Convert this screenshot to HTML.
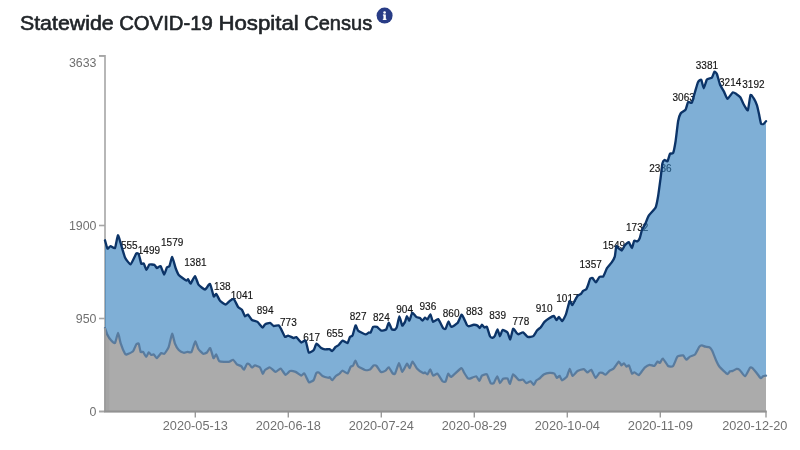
<!DOCTYPE html>
<html><head><meta charset="utf-8"><title>Statewide COVID-19 Hospital Census</title>
<style>
html,body{margin:0;padding:0;background:#fff;}
body{width:800px;height:450px;overflow:hidden;font-family:"Liberation Sans",sans-serif;}
svg{display:block;will-change:transform;opacity:0.999;}
svg text{font-family:"Liberation Sans",sans-serif;}
</style></head><body>
<svg width="800" height="450" viewBox="0 0 800 450">
<rect width="800" height="450" fill="#fff"/>
<g font-size="19.8" fill="#212529" stroke="#212529" stroke-width="0.6" stroke-linejoin="round">
<text x="19.9" y="29.5" textLength="93.8" lengthAdjust="spacingAndGlyphs">Statewide</text>
<text x="119.2" y="29.5" textLength="93.6" lengthAdjust="spacingAndGlyphs">COVID-19</text>
<text x="218.4" y="29.5" textLength="80.4" lengthAdjust="spacingAndGlyphs">Hospital</text>
<text x="304.2" y="29.5" textLength="68" lengthAdjust="spacingAndGlyphs">Census</text>
</g>
<g>
<circle cx="384.6" cy="15.6" r="8" fill="#283c86"/>
<rect x="383.45" y="14.5" width="2.4" height="5.3" fill="#fff"/>
<rect x="382.9" y="14.5" width="1.5" height="1.1" fill="#fff"/>
<rect x="382.8" y="18.8" width="3.7" height="1.1" fill="#fff"/>
<circle cx="384.6" cy="12.5" r="1.3" fill="#fff"/>
</g>
<g stroke="#a6a6a6" stroke-width="1.6" fill="none">
<path d="M99,55.85 H105 V411.5 "/>
<path d="M99,411.5 H766"/>
<line x1="99" y1="411.50" x2="105" y2="411.50"/><line x1="99" y1="318.50" x2="105" y2="318.50"/><line x1="99" y1="225.50" x2="105" y2="225.50"/><line x1="99" y1="55.85" x2="105" y2="55.85"/>
</g>
<g stroke="#8a8a8a" stroke-width="1.2" fill="none">
<line x1="195.25" y1="411.5" x2="195.25" y2="417.5"/><line x1="288.25" y1="411.5" x2="288.25" y2="417.5"/><line x1="381.25" y1="411.5" x2="381.25" y2="417.5"/><line x1="474.25" y1="411.5" x2="474.25" y2="417.5"/><line x1="567.25" y1="411.5" x2="567.25" y2="417.5"/><line x1="660.25" y1="411.5" x2="660.25" y2="417.5"/><line x1="766" y1="411.5" x2="766" y2="417.5"/>
</g>
<g font-size="12.4" fill="#707070">
<text x="96.5" y="415.80" text-anchor="end">0</text><text x="96.5" y="322.80" text-anchor="end">950</text><text x="96.5" y="229.80" text-anchor="end">1900</text><text x="96.5" y="66.65" text-anchor="end">3633</text>
</g>
<g font-size="13" fill="#707070">
<text x="162.75" y="429.9" textLength="65.2" lengthAdjust="spacingAndGlyphs">2020-05-13</text><text x="255.75" y="429.9" textLength="65.2" lengthAdjust="spacingAndGlyphs">2020-06-18</text><text x="348.75" y="429.9" textLength="65.2" lengthAdjust="spacingAndGlyphs">2020-07-24</text><text x="441.75" y="429.9" textLength="65.2" lengthAdjust="spacingAndGlyphs">2020-08-29</text><text x="534.75" y="429.9" textLength="65.2" lengthAdjust="spacingAndGlyphs">2020-10-04</text><text x="627.75" y="429.9" textLength="65.2" lengthAdjust="spacingAndGlyphs">2020-11-09</text><text x="722.2" y="429.9" textLength="65.2" lengthAdjust="spacingAndGlyphs">2020-12-20</text>
</g>
<g font-size="10" fill="#151515" stroke="#151515" stroke-width="0.15">
<text x="137.57" y="248.78" text-anchor="end">555</text><text x="148.92" y="254.28" text-anchor="middle">1499</text><text x="172.17" y="246.42" text-anchor="middle">1579</text><text x="195.42" y="265.87" text-anchor="middle">1381</text><text x="230.57" y="289.73" text-anchor="end">138</text><text x="241.92" y="299.26" text-anchor="middle">1041</text><text x="265.17" y="313.70" text-anchor="middle">894</text><text x="288.42" y="325.58" text-anchor="middle">773</text><text x="311.67" y="340.90" text-anchor="middle">617</text><text x="334.92" y="337.17" text-anchor="middle">655</text><text x="358.17" y="320.28" text-anchor="middle">827</text><text x="381.42" y="320.57" text-anchor="middle">824</text><text x="404.67" y="312.71" text-anchor="middle">904</text><text x="427.92" y="309.57" text-anchor="middle">936</text><text x="451.17" y="317.04" text-anchor="middle">860</text><text x="474.42" y="314.78" text-anchor="middle">883</text><text x="497.67" y="319.10" text-anchor="middle">839</text><text x="520.92" y="325.09" text-anchor="middle">778</text><text x="544.17" y="312.12" text-anchor="middle">910</text><text x="567.42" y="301.62" text-anchor="middle">1017</text><text x="590.67" y="268.22" text-anchor="middle">1357</text><text x="613.92" y="249.37" text-anchor="middle">1549</text><text x="637.17" y="231.39" text-anchor="middle">1732</text><text x="660.42" y="172.07" text-anchor="middle">2336</text><text x="683.67" y="100.67" text-anchor="middle">3063</text><text x="706.92" y="69.44" text-anchor="middle">3381</text><text x="730.17" y="85.84" text-anchor="middle">3214</text><text x="753.42" y="88.00" text-anchor="middle">3192</text>
</g>
<path d="M105.00,240.30 C105.21,240.99 107.03,248.12 107.50,248.60 C107.97,249.08 109.97,246.15 110.60,246.10 C111.22,246.05 114.39,248.90 115.00,248.00 C115.61,247.10 117.43,235.72 117.90,235.30 C118.37,234.88 120.01,241.16 120.60,243.00 C121.19,244.84 124.17,255.62 125.00,257.40 C125.83,259.17 129.66,264.62 130.60,264.30 C131.54,263.98 135.57,254.44 136.25,253.60 C136.93,252.76 138.33,253.42 138.75,254.25 C139.17,255.08 140.83,262.82 141.25,263.60 C141.67,264.38 143.31,263.08 143.75,263.60 C144.19,264.12 146.03,269.82 146.50,269.90 C146.97,269.98 148.74,265.02 149.40,264.60 C150.06,264.18 153.78,264.62 154.40,264.90 C155.03,265.18 156.38,267.90 156.90,268.00 C157.42,268.10 160.00,265.56 160.60,266.10 C161.20,266.64 163.57,274.39 164.10,274.50 C164.62,274.61 166.46,268.10 166.90,267.40 C167.34,266.70 168.95,266.97 169.40,266.10 C169.85,265.23 171.73,256.84 172.25,257.00 C172.77,257.16 175.06,266.51 175.60,268.00 C176.14,269.49 177.86,273.86 178.75,274.90 C179.64,275.94 185.47,280.14 186.25,280.50 C187.03,280.86 187.74,278.99 188.10,279.25 C188.46,279.51 190.03,283.86 190.60,283.60 C191.17,283.34 194.34,276.02 195.00,276.10 C195.66,276.18 197.67,283.48 198.50,284.60 C199.33,285.72 204.04,289.56 205.00,289.50 C205.96,289.44 209.27,283.32 210.00,283.90 C210.73,284.47 213.23,295.57 213.75,296.40 C214.27,297.23 215.73,293.54 216.25,293.90 C216.77,294.26 219.22,299.87 220.00,300.75 C220.78,301.63 224.77,304.50 225.60,304.50 C226.43,304.50 229.32,301.22 230.00,300.75 C230.68,300.28 233.07,298.38 233.75,298.90 C234.43,299.42 237.42,306.10 238.10,307.00 C238.78,307.90 241.33,308.93 241.90,309.70 C242.47,310.47 244.49,315.89 245.00,316.30 C245.51,316.71 247.43,314.29 248.00,314.60 C248.57,314.91 251.11,319.39 251.90,320.00 C252.69,320.61 256.62,321.27 257.50,321.90 C258.38,322.52 261.88,327.29 262.50,327.50 C263.12,327.71 264.38,324.78 265.00,324.40 C265.62,324.02 269.27,322.77 270.00,322.90 C270.73,323.03 273.02,325.79 273.75,326.00 C274.48,326.21 278.12,325.12 278.75,325.40 C279.38,325.68 280.73,328.44 281.25,329.40 C281.77,330.36 284.43,336.38 285.00,336.90 C285.57,337.42 287.37,335.50 288.10,335.60 C288.83,335.70 293.07,337.98 293.75,338.10 C294.43,338.23 295.62,336.73 296.25,337.10 C296.88,337.47 300.47,342.21 301.25,342.50 C302.03,342.79 304.98,339.77 305.60,340.60 C306.23,341.43 308.07,351.72 308.75,352.50 C309.43,353.28 313.10,350.73 313.75,350.00 C314.40,349.27 315.88,343.91 316.50,343.75 C317.12,343.59 320.54,347.63 321.25,348.10 C321.96,348.57 324.32,349.32 325.00,349.40 C325.68,349.48 328.80,348.97 329.40,349.10 C330.00,349.23 331.73,351.18 332.25,351.00 C332.77,350.82 335.06,347.40 335.60,346.90 C336.14,346.40 338.18,345.52 338.75,345.00 C339.32,344.48 341.77,340.76 342.50,340.60 C343.23,340.44 346.88,343.41 347.50,343.10 C348.12,342.79 349.58,337.52 350.00,336.90 C350.42,336.27 352.03,336.56 352.50,335.60 C352.97,334.64 355.13,325.82 355.60,325.40 C356.07,324.98 357.27,329.85 358.10,330.60 C358.93,331.35 364.71,334.24 365.60,334.40 C366.49,334.56 368.33,332.66 368.75,332.50 C369.17,332.34 370.24,332.97 370.60,332.50 C370.96,332.03 372.58,327.37 373.10,326.90 C373.62,326.43 376.22,326.59 376.90,326.90 C377.58,327.21 380.47,330.39 381.25,330.60 C382.03,330.81 385.62,330.05 386.25,329.40 C386.88,328.75 388.28,322.75 388.75,322.75 C389.22,322.75 391.38,328.83 391.90,329.40 C392.42,329.97 394.58,329.81 395.00,329.60 C395.42,329.39 396.53,327.99 396.90,326.90 C397.27,325.81 398.95,316.61 399.40,316.50 C399.85,316.39 401.78,325.15 402.25,325.60 C402.72,326.05 404.61,322.68 405.00,321.90 C405.39,321.12 406.53,316.36 406.90,316.25 C407.27,316.14 408.95,320.89 409.40,320.60 C409.85,320.31 411.68,313.06 412.25,312.75 C412.82,312.44 415.60,316.45 416.25,316.90 C416.90,317.35 419.48,317.79 420.00,318.10 C420.52,318.41 422.08,320.63 422.50,320.60 C422.92,320.57 424.58,317.80 425.00,317.70 C425.42,317.60 427.05,319.67 427.50,319.40 C427.95,319.12 429.93,314.19 430.40,314.40 C430.87,314.61 432.46,321.51 433.10,321.90 C433.74,322.29 437.27,318.58 438.10,319.10 C438.93,319.62 442.48,327.30 443.10,328.10 C443.73,328.90 445.15,329.30 445.60,328.75 C446.05,328.20 448.03,321.65 448.50,321.50 C448.97,321.35 450.50,326.77 451.25,326.90 C452.00,327.03 456.65,324.11 457.50,323.10 C458.35,322.09 460.98,315.17 461.50,314.75 C462.02,314.33 463.30,317.25 463.75,318.10 C464.20,318.95 466.48,324.32 466.90,325.00 C467.32,325.68 468.18,326.27 468.75,326.25 C469.32,326.23 473.02,324.80 473.75,324.75 C474.48,324.70 477.00,325.32 477.50,325.60 C478.00,325.88 479.38,328.17 479.75,328.10 C480.12,328.03 481.51,324.80 481.90,324.75 C482.29,324.70 483.98,327.32 484.40,327.50 C484.82,327.68 486.43,326.17 486.90,326.90 C487.37,327.63 489.53,335.35 490.00,336.25 C490.47,337.15 492.08,337.80 492.50,337.75 C492.92,337.70 494.58,336.30 495.00,335.60 C495.42,334.90 497.08,329.35 497.50,329.40 C497.92,329.45 499.58,336.20 500.00,336.25 C500.42,336.30 501.88,330.31 502.50,330.00 C503.12,329.69 506.85,331.72 507.50,332.50 C508.15,333.28 509.78,339.71 510.25,339.40 C510.72,339.09 512.60,329.32 513.10,328.75 C513.60,328.18 515.81,332.04 516.25,332.50 C516.69,332.96 517.83,334.26 518.40,334.25 C518.97,334.24 522.33,332.18 523.10,332.40 C523.88,332.62 526.85,336.59 527.70,336.90 C528.55,337.21 532.52,336.63 533.30,336.10 C534.07,335.57 536.38,331.24 537.00,330.50 C537.62,329.76 540.17,327.92 540.80,327.20 C541.42,326.48 543.80,322.65 544.50,321.90 C545.20,321.15 548.43,318.69 549.20,318.20 C549.98,317.71 553.18,315.84 553.80,316.00 C554.42,316.16 556.18,320.03 556.60,320.10 C557.02,320.18 558.43,316.81 558.90,316.90 C559.37,316.99 561.61,321.43 562.20,321.20 C562.79,320.97 565.38,315.78 566.00,314.10 C566.62,312.42 569.18,301.74 569.70,301.00 C570.22,300.26 571.81,305.17 572.20,305.20 C572.59,305.23 573.96,302.17 574.40,301.40 C574.84,300.62 576.93,296.55 577.50,295.90 C578.07,295.25 580.78,294.02 581.25,293.60 C581.72,293.18 582.68,291.27 583.10,290.90 C583.52,290.53 585.83,289.69 586.25,289.20 C586.67,288.71 587.77,285.88 588.10,285.00 C588.43,284.12 589.83,279.27 590.20,278.70 C590.57,278.12 592.03,277.79 592.50,278.10 C592.97,278.41 595.22,282.51 595.80,282.40 C596.38,282.29 598.88,277.30 599.50,276.80 C600.12,276.30 602.67,277.12 603.30,276.40 C603.92,275.68 606.30,269.37 607.00,268.20 C607.70,267.03 611.05,263.37 611.70,262.40 C612.35,261.43 614.42,257.96 614.80,256.60 C615.18,255.24 615.97,246.78 616.30,246.10 C616.62,245.42 618.24,248.03 618.70,248.40 C619.16,248.77 621.28,250.76 621.80,250.50 C622.32,250.24 624.32,245.99 624.90,245.30 C625.48,244.61 628.22,241.97 628.80,242.20 C629.38,242.42 631.45,248.12 631.90,248.00 C632.35,247.88 633.75,241.25 634.20,240.70 C634.65,240.15 636.84,241.60 637.30,241.40 C637.76,241.20 639.31,239.27 639.70,238.30 C640.09,237.33 641.55,230.97 642.00,229.80 C642.45,228.63 644.54,225.48 645.10,224.30 C645.66,223.12 647.88,217.00 648.75,215.60 C649.62,214.20 654.82,209.11 655.60,207.50 C656.38,205.89 657.68,198.71 658.10,196.25 C658.52,193.79 660.24,180.73 660.60,178.00 C660.96,175.27 662.08,165.00 662.40,163.50 C662.72,162.00 663.98,160.19 664.40,160.00 C664.82,159.81 667.03,161.77 667.50,161.25 C667.97,160.73 669.53,154.43 670.00,153.75 C670.47,153.07 672.63,154.14 673.10,153.10 C673.57,152.06 675.18,143.90 675.60,141.25 C676.02,138.60 677.68,123.56 678.10,121.25 C678.52,118.94 679.98,114.46 680.60,113.50 C681.23,112.54 684.98,110.66 685.60,109.70 C686.23,108.74 687.58,102.59 688.10,102.00 C688.62,101.41 691.32,103.43 691.90,102.60 C692.48,101.77 694.48,93.72 695.00,92.00 C695.52,90.28 697.58,83.02 698.10,82.00 C698.62,80.98 700.78,79.23 701.25,79.75 C701.72,80.27 703.28,88.27 703.75,88.25 C704.22,88.23 706.22,80.39 706.90,79.50 C707.58,78.61 711.27,78.25 711.90,77.60 C712.52,76.95 713.98,72.06 714.40,71.75 C714.82,71.44 716.43,72.84 716.90,73.90 C717.37,74.96 719.41,83.03 720.00,84.50 C720.59,85.97 723.38,90.40 724.00,91.60 C724.62,92.80 726.77,98.83 727.50,98.90 C728.23,98.97 731.97,92.82 732.70,92.40 C733.43,91.98 735.62,93.49 736.25,93.90 C736.88,94.31 739.70,96.46 740.30,97.30 C740.90,98.14 742.88,102.92 743.50,104.00 C744.12,105.08 747.22,111.05 747.80,110.30 C748.38,109.55 749.99,95.97 750.50,95.00 C751.01,94.03 753.36,97.74 753.90,98.60 C754.44,99.46 756.58,104.02 757.00,105.30 C757.42,106.58 758.67,112.48 759.00,114.00 C759.33,115.52 760.62,122.67 761.00,123.50 C761.38,124.33 763.08,124.19 763.50,124.00 C763.92,123.81 765.79,121.43 766.00,121.20 L766.00,411.5 L105.00,411.5 Z" fill="#2a7abb" fill-opacity="0.6"/>
<path d="M105.00,240.30 C105.21,240.99 107.03,248.12 107.50,248.60 C107.97,249.08 109.97,246.15 110.60,246.10 C111.22,246.05 114.39,248.90 115.00,248.00 C115.61,247.10 117.43,235.72 117.90,235.30 C118.37,234.88 120.01,241.16 120.60,243.00 C121.19,244.84 124.17,255.62 125.00,257.40 C125.83,259.17 129.66,264.62 130.60,264.30 C131.54,263.98 135.57,254.44 136.25,253.60 C136.93,252.76 138.33,253.42 138.75,254.25 C139.17,255.08 140.83,262.82 141.25,263.60 C141.67,264.38 143.31,263.08 143.75,263.60 C144.19,264.12 146.03,269.82 146.50,269.90 C146.97,269.98 148.74,265.02 149.40,264.60 C150.06,264.18 153.78,264.62 154.40,264.90 C155.03,265.18 156.38,267.90 156.90,268.00 C157.42,268.10 160.00,265.56 160.60,266.10 C161.20,266.64 163.57,274.39 164.10,274.50 C164.62,274.61 166.46,268.10 166.90,267.40 C167.34,266.70 168.95,266.97 169.40,266.10 C169.85,265.23 171.73,256.84 172.25,257.00 C172.77,257.16 175.06,266.51 175.60,268.00 C176.14,269.49 177.86,273.86 178.75,274.90 C179.64,275.94 185.47,280.14 186.25,280.50 C187.03,280.86 187.74,278.99 188.10,279.25 C188.46,279.51 190.03,283.86 190.60,283.60 C191.17,283.34 194.34,276.02 195.00,276.10 C195.66,276.18 197.67,283.48 198.50,284.60 C199.33,285.72 204.04,289.56 205.00,289.50 C205.96,289.44 209.27,283.32 210.00,283.90 C210.73,284.47 213.23,295.57 213.75,296.40 C214.27,297.23 215.73,293.54 216.25,293.90 C216.77,294.26 219.22,299.87 220.00,300.75 C220.78,301.63 224.77,304.50 225.60,304.50 C226.43,304.50 229.32,301.22 230.00,300.75 C230.68,300.28 233.07,298.38 233.75,298.90 C234.43,299.42 237.42,306.10 238.10,307.00 C238.78,307.90 241.33,308.93 241.90,309.70 C242.47,310.47 244.49,315.89 245.00,316.30 C245.51,316.71 247.43,314.29 248.00,314.60 C248.57,314.91 251.11,319.39 251.90,320.00 C252.69,320.61 256.62,321.27 257.50,321.90 C258.38,322.52 261.88,327.29 262.50,327.50 C263.12,327.71 264.38,324.78 265.00,324.40 C265.62,324.02 269.27,322.77 270.00,322.90 C270.73,323.03 273.02,325.79 273.75,326.00 C274.48,326.21 278.12,325.12 278.75,325.40 C279.38,325.68 280.73,328.44 281.25,329.40 C281.77,330.36 284.43,336.38 285.00,336.90 C285.57,337.42 287.37,335.50 288.10,335.60 C288.83,335.70 293.07,337.98 293.75,338.10 C294.43,338.23 295.62,336.73 296.25,337.10 C296.88,337.47 300.47,342.21 301.25,342.50 C302.03,342.79 304.98,339.77 305.60,340.60 C306.23,341.43 308.07,351.72 308.75,352.50 C309.43,353.28 313.10,350.73 313.75,350.00 C314.40,349.27 315.88,343.91 316.50,343.75 C317.12,343.59 320.54,347.63 321.25,348.10 C321.96,348.57 324.32,349.32 325.00,349.40 C325.68,349.48 328.80,348.97 329.40,349.10 C330.00,349.23 331.73,351.18 332.25,351.00 C332.77,350.82 335.06,347.40 335.60,346.90 C336.14,346.40 338.18,345.52 338.75,345.00 C339.32,344.48 341.77,340.76 342.50,340.60 C343.23,340.44 346.88,343.41 347.50,343.10 C348.12,342.79 349.58,337.52 350.00,336.90 C350.42,336.27 352.03,336.56 352.50,335.60 C352.97,334.64 355.13,325.82 355.60,325.40 C356.07,324.98 357.27,329.85 358.10,330.60 C358.93,331.35 364.71,334.24 365.60,334.40 C366.49,334.56 368.33,332.66 368.75,332.50 C369.17,332.34 370.24,332.97 370.60,332.50 C370.96,332.03 372.58,327.37 373.10,326.90 C373.62,326.43 376.22,326.59 376.90,326.90 C377.58,327.21 380.47,330.39 381.25,330.60 C382.03,330.81 385.62,330.05 386.25,329.40 C386.88,328.75 388.28,322.75 388.75,322.75 C389.22,322.75 391.38,328.83 391.90,329.40 C392.42,329.97 394.58,329.81 395.00,329.60 C395.42,329.39 396.53,327.99 396.90,326.90 C397.27,325.81 398.95,316.61 399.40,316.50 C399.85,316.39 401.78,325.15 402.25,325.60 C402.72,326.05 404.61,322.68 405.00,321.90 C405.39,321.12 406.53,316.36 406.90,316.25 C407.27,316.14 408.95,320.89 409.40,320.60 C409.85,320.31 411.68,313.06 412.25,312.75 C412.82,312.44 415.60,316.45 416.25,316.90 C416.90,317.35 419.48,317.79 420.00,318.10 C420.52,318.41 422.08,320.63 422.50,320.60 C422.92,320.57 424.58,317.80 425.00,317.70 C425.42,317.60 427.05,319.67 427.50,319.40 C427.95,319.12 429.93,314.19 430.40,314.40 C430.87,314.61 432.46,321.51 433.10,321.90 C433.74,322.29 437.27,318.58 438.10,319.10 C438.93,319.62 442.48,327.30 443.10,328.10 C443.73,328.90 445.15,329.30 445.60,328.75 C446.05,328.20 448.03,321.65 448.50,321.50 C448.97,321.35 450.50,326.77 451.25,326.90 C452.00,327.03 456.65,324.11 457.50,323.10 C458.35,322.09 460.98,315.17 461.50,314.75 C462.02,314.33 463.30,317.25 463.75,318.10 C464.20,318.95 466.48,324.32 466.90,325.00 C467.32,325.68 468.18,326.27 468.75,326.25 C469.32,326.23 473.02,324.80 473.75,324.75 C474.48,324.70 477.00,325.32 477.50,325.60 C478.00,325.88 479.38,328.17 479.75,328.10 C480.12,328.03 481.51,324.80 481.90,324.75 C482.29,324.70 483.98,327.32 484.40,327.50 C484.82,327.68 486.43,326.17 486.90,326.90 C487.37,327.63 489.53,335.35 490.00,336.25 C490.47,337.15 492.08,337.80 492.50,337.75 C492.92,337.70 494.58,336.30 495.00,335.60 C495.42,334.90 497.08,329.35 497.50,329.40 C497.92,329.45 499.58,336.20 500.00,336.25 C500.42,336.30 501.88,330.31 502.50,330.00 C503.12,329.69 506.85,331.72 507.50,332.50 C508.15,333.28 509.78,339.71 510.25,339.40 C510.72,339.09 512.60,329.32 513.10,328.75 C513.60,328.18 515.81,332.04 516.25,332.50 C516.69,332.96 517.83,334.26 518.40,334.25 C518.97,334.24 522.33,332.18 523.10,332.40 C523.88,332.62 526.85,336.59 527.70,336.90 C528.55,337.21 532.52,336.63 533.30,336.10 C534.07,335.57 536.38,331.24 537.00,330.50 C537.62,329.76 540.17,327.92 540.80,327.20 C541.42,326.48 543.80,322.65 544.50,321.90 C545.20,321.15 548.43,318.69 549.20,318.20 C549.98,317.71 553.18,315.84 553.80,316.00 C554.42,316.16 556.18,320.03 556.60,320.10 C557.02,320.18 558.43,316.81 558.90,316.90 C559.37,316.99 561.61,321.43 562.20,321.20 C562.79,320.97 565.38,315.78 566.00,314.10 C566.62,312.42 569.18,301.74 569.70,301.00 C570.22,300.26 571.81,305.17 572.20,305.20 C572.59,305.23 573.96,302.17 574.40,301.40 C574.84,300.62 576.93,296.55 577.50,295.90 C578.07,295.25 580.78,294.02 581.25,293.60 C581.72,293.18 582.68,291.27 583.10,290.90 C583.52,290.53 585.83,289.69 586.25,289.20 C586.67,288.71 587.77,285.88 588.10,285.00 C588.43,284.12 589.83,279.27 590.20,278.70 C590.57,278.12 592.03,277.79 592.50,278.10 C592.97,278.41 595.22,282.51 595.80,282.40 C596.38,282.29 598.88,277.30 599.50,276.80 C600.12,276.30 602.67,277.12 603.30,276.40 C603.92,275.68 606.30,269.37 607.00,268.20 C607.70,267.03 611.05,263.37 611.70,262.40 C612.35,261.43 614.42,257.96 614.80,256.60 C615.18,255.24 615.97,246.78 616.30,246.10 C616.62,245.42 618.24,248.03 618.70,248.40 C619.16,248.77 621.28,250.76 621.80,250.50 C622.32,250.24 624.32,245.99 624.90,245.30 C625.48,244.61 628.22,241.97 628.80,242.20 C629.38,242.42 631.45,248.12 631.90,248.00 C632.35,247.88 633.75,241.25 634.20,240.70 C634.65,240.15 636.84,241.60 637.30,241.40 C637.76,241.20 639.31,239.27 639.70,238.30 C640.09,237.33 641.55,230.97 642.00,229.80 C642.45,228.63 644.54,225.48 645.10,224.30 C645.66,223.12 647.88,217.00 648.75,215.60 C649.62,214.20 654.82,209.11 655.60,207.50 C656.38,205.89 657.68,198.71 658.10,196.25 C658.52,193.79 660.24,180.73 660.60,178.00 C660.96,175.27 662.08,165.00 662.40,163.50 C662.72,162.00 663.98,160.19 664.40,160.00 C664.82,159.81 667.03,161.77 667.50,161.25 C667.97,160.73 669.53,154.43 670.00,153.75 C670.47,153.07 672.63,154.14 673.10,153.10 C673.57,152.06 675.18,143.90 675.60,141.25 C676.02,138.60 677.68,123.56 678.10,121.25 C678.52,118.94 679.98,114.46 680.60,113.50 C681.23,112.54 684.98,110.66 685.60,109.70 C686.23,108.74 687.58,102.59 688.10,102.00 C688.62,101.41 691.32,103.43 691.90,102.60 C692.48,101.77 694.48,93.72 695.00,92.00 C695.52,90.28 697.58,83.02 698.10,82.00 C698.62,80.98 700.78,79.23 701.25,79.75 C701.72,80.27 703.28,88.27 703.75,88.25 C704.22,88.23 706.22,80.39 706.90,79.50 C707.58,78.61 711.27,78.25 711.90,77.60 C712.52,76.95 713.98,72.06 714.40,71.75 C714.82,71.44 716.43,72.84 716.90,73.90 C717.37,74.96 719.41,83.03 720.00,84.50 C720.59,85.97 723.38,90.40 724.00,91.60 C724.62,92.80 726.77,98.83 727.50,98.90 C728.23,98.97 731.97,92.82 732.70,92.40 C733.43,91.98 735.62,93.49 736.25,93.90 C736.88,94.31 739.70,96.46 740.30,97.30 C740.90,98.14 742.88,102.92 743.50,104.00 C744.12,105.08 747.22,111.05 747.80,110.30 C748.38,109.55 749.99,95.97 750.50,95.00 C751.01,94.03 753.36,97.74 753.90,98.60 C754.44,99.46 756.58,104.02 757.00,105.30 C757.42,106.58 758.67,112.48 759.00,114.00 C759.33,115.52 760.62,122.67 761.00,123.50 C761.38,124.33 763.08,124.19 763.50,124.00 C763.92,123.81 765.79,121.43 766.00,121.20" fill="none" stroke="#0c3468" stroke-width="2.35" stroke-linejoin="round" stroke-linecap="round"/>
<path d="M105.00,328.10 C105.21,328.68 106.98,333.96 107.50,335.00 C108.02,336.04 110.62,339.93 111.25,340.60 C111.88,341.28 114.43,343.74 115.00,343.10 C115.57,342.46 117.63,332.90 118.10,332.90 C118.57,332.90 120.02,341.36 120.60,343.10 C121.17,344.84 124.47,352.81 125.00,353.75 C125.53,354.69 126.23,354.61 126.90,354.40 C127.58,354.19 132.32,352.08 133.10,351.25 C133.88,350.42 135.78,345.02 136.25,344.40 C136.72,343.77 138.39,343.12 138.75,343.75 C139.11,344.38 140.24,351.22 140.60,351.90 C140.96,352.58 142.63,351.48 143.10,351.90 C143.57,352.32 145.78,356.87 146.25,356.90 C146.72,356.93 148.33,352.41 148.75,352.25 C149.17,352.09 150.83,354.82 151.25,355.00 C151.67,355.18 153.28,354.14 153.75,354.40 C154.22,354.66 156.28,358.21 156.90,358.10 C157.53,357.99 160.62,353.46 161.25,353.10 C161.88,352.74 163.78,354.27 164.40,353.75 C165.03,353.23 168.11,348.57 168.75,346.90 C169.39,345.23 171.58,334.01 172.10,333.75 C172.62,333.49 174.45,342.40 175.00,343.75 C175.55,345.10 178.02,349.25 178.75,350.00 C179.48,350.75 183.02,352.59 183.75,352.75 C184.48,352.91 186.85,351.96 187.50,351.90 C188.15,351.84 190.85,352.87 191.50,352.00 C192.15,351.13 194.68,341.75 195.25,341.50 C195.82,341.25 197.75,347.98 198.40,349.00 C199.05,350.02 202.39,353.46 203.10,353.75 C203.81,354.04 206.30,352.97 206.90,352.50 C207.50,352.03 209.70,347.63 210.25,348.10 C210.80,348.57 213.00,357.58 213.50,358.10 C214.00,358.62 215.76,354.14 216.25,354.40 C216.74,354.66 218.36,360.62 219.40,361.25 C220.44,361.88 227.61,362.02 228.75,361.90 C229.89,361.77 232.42,359.54 233.10,359.75 C233.78,359.96 236.22,363.86 236.90,364.40 C237.58,364.94 240.66,365.80 241.25,366.25 C241.84,366.70 243.53,369.94 244.00,369.75 C244.47,369.56 246.45,364.45 246.90,364.00 C247.35,363.55 248.98,364.11 249.40,364.40 C249.82,364.69 251.43,367.42 251.90,367.50 C252.37,367.58 254.32,365.40 255.00,365.40 C255.68,365.40 259.35,366.80 260.00,367.50 C260.65,368.20 262.33,373.54 262.75,373.75 C263.17,373.96 264.40,370.52 265.00,370.00 C265.60,369.48 269.12,367.34 270.00,367.50 C270.88,367.66 274.72,371.82 275.60,371.90 C276.48,371.98 279.77,368.25 280.60,368.50 C281.43,368.75 284.82,374.69 285.60,374.90 C286.38,375.11 289.17,371.25 290.00,371.00 C290.83,370.75 294.66,371.52 295.60,371.90 C296.54,372.28 300.52,375.47 301.25,375.60 C301.98,375.73 303.75,372.95 304.40,373.50 C305.05,374.05 308.22,381.71 309.00,382.25 C309.78,382.79 313.15,380.76 313.75,380.00 C314.35,379.24 315.83,373.73 316.25,373.10 C316.67,372.48 318.23,372.26 318.75,372.50 C319.27,372.74 321.72,375.56 322.50,376.00 C323.28,376.44 327.50,377.65 328.10,377.75 C328.70,377.85 329.40,377.04 329.75,377.25 C330.10,377.46 331.76,380.33 332.25,380.25 C332.74,380.17 335.00,376.79 335.60,376.25 C336.20,375.71 338.82,374.22 339.40,373.75 C339.97,373.28 341.82,370.62 342.50,370.60 C343.18,370.58 346.82,373.81 347.50,373.50 C348.18,373.19 350.13,367.56 350.60,366.90 C351.07,366.24 352.70,366.12 353.10,365.60 C353.50,365.08 354.98,360.55 355.40,360.60 C355.82,360.65 357.30,365.47 358.10,366.25 C358.90,367.03 364.01,369.72 365.00,370.00 C365.99,370.28 369.29,369.98 370.00,369.60 C370.71,369.23 372.96,365.82 373.50,365.50 C374.04,365.18 375.88,365.26 376.50,365.80 C377.12,366.34 380.24,371.60 381.00,372.00 C381.76,372.40 384.95,371.00 385.60,370.60 C386.25,370.20 388.18,367.04 388.75,367.25 C389.32,367.46 391.98,372.56 392.50,373.10 C393.02,373.64 394.46,374.58 395.00,373.75 C395.54,372.92 398.40,363.25 399.00,363.10 C399.60,362.95 401.59,371.85 402.25,371.90 C402.91,371.95 406.27,364.07 406.90,363.75 C407.52,363.43 409.28,368.29 409.75,368.10 C410.22,367.91 411.90,361.47 412.50,361.50 C413.10,361.53 416.02,367.53 416.90,368.50 C417.78,369.47 422.43,372.77 423.10,373.10 C423.78,373.43 424.63,372.39 425.00,372.50 C425.37,372.61 427.06,374.66 427.50,374.40 C427.94,374.14 429.78,369.30 430.25,369.40 C430.72,369.50 432.50,375.24 433.10,375.60 C433.70,375.96 436.72,373.28 437.50,373.75 C438.28,374.22 441.82,380.60 442.50,381.25 C443.18,381.90 445.13,382.23 445.60,381.60 C446.07,380.98 447.63,374.14 448.10,373.75 C448.57,373.36 450.15,377.37 451.25,376.90 C452.35,376.43 460.19,368.47 461.25,368.10 C462.31,367.73 463.45,371.65 464.00,372.50 C464.55,373.35 467.30,377.79 467.80,378.30 C468.30,378.81 469.30,378.77 470.00,378.60 C470.70,378.43 475.47,376.05 476.25,376.25 C477.03,376.45 478.93,381.05 479.40,381.00 C479.87,380.95 481.27,376.15 481.90,375.60 C482.52,375.05 486.17,373.77 486.90,374.40 C487.62,375.02 490.03,382.38 490.60,383.10 C491.17,383.83 493.20,383.67 493.75,383.10 C494.30,382.53 496.73,376.25 497.25,376.25 C497.77,376.25 499.51,382.89 500.00,383.10 C500.49,383.31 502.48,379.13 503.10,378.75 C503.73,378.37 506.93,378.08 507.50,378.50 C508.07,378.92 509.53,384.09 510.00,383.75 C510.47,383.41 512.37,374.71 513.10,374.40 C513.83,374.09 517.92,379.55 518.75,380.00 C519.58,380.45 522.48,379.49 523.10,379.75 C523.73,380.01 525.62,382.98 526.25,383.10 C526.88,383.23 529.98,381.09 530.60,381.25 C531.23,381.41 533.28,385.05 533.75,385.00 C534.22,384.95 535.73,381.18 536.25,380.60 C536.77,380.03 539.38,378.62 540.00,378.10 C540.62,377.58 542.95,374.84 543.75,374.40 C544.55,373.96 548.71,372.86 549.60,372.80 C550.49,372.74 553.79,373.27 554.40,373.70 C555.01,374.13 556.47,377.82 556.90,378.00 C557.33,378.18 559.18,375.60 559.60,375.80 C560.02,376.00 561.29,380.33 561.90,380.40 C562.51,380.47 566.25,377.57 566.90,376.60 C567.55,375.63 569.28,368.80 569.75,368.75 C570.22,368.70 571.85,375.81 572.50,376.00 C573.15,376.19 576.56,371.57 577.50,371.00 C578.44,370.43 582.92,368.98 583.75,369.10 C584.58,369.23 586.88,372.45 587.50,372.50 C588.12,372.55 590.58,369.30 591.25,369.75 C591.92,370.20 594.92,377.64 595.60,377.90 C596.28,378.16 598.82,373.32 599.40,372.90 C599.98,372.48 601.98,372.75 602.50,372.90 C603.02,373.05 604.98,374.96 605.60,374.75 C606.23,374.54 609.32,370.92 610.00,370.40 C610.68,369.88 613.02,369.23 613.75,368.50 C614.48,367.77 618.10,361.86 618.75,361.60 C619.40,361.34 621.06,365.26 621.50,365.40 C621.94,365.54 623.58,363.15 624.00,363.25 C624.42,363.35 626.08,366.42 626.50,366.60 C626.92,366.78 628.55,364.82 629.00,365.40 C629.45,365.97 631.45,372.93 631.90,373.50 C632.35,374.07 633.83,372.12 634.40,372.25 C634.97,372.38 638.18,375.10 638.75,375.10 C639.32,375.10 640.75,372.88 641.25,372.25 C641.75,371.62 644.00,368.22 644.70,367.60 C645.40,366.98 648.79,364.93 649.60,364.80 C650.41,364.67 653.74,366.27 654.40,366.00 C655.06,365.73 657.03,361.86 657.50,361.60 C657.97,361.34 659.56,363.16 660.00,362.90 C660.44,362.64 662.08,358.24 662.75,358.50 C663.42,358.76 667.24,365.38 668.10,366.00 C668.96,366.62 672.32,366.78 673.10,366.00 C673.88,365.22 676.67,357.48 677.50,356.60 C678.33,355.72 682.37,355.14 683.10,355.40 C683.83,355.66 685.67,359.65 686.25,359.75 C686.83,359.85 689.27,357.04 690.00,356.60 C690.73,356.16 694.22,355.33 695.00,354.50 C695.78,353.67 698.82,347.36 699.40,346.60 C699.98,345.84 701.41,345.39 701.90,345.40 C702.39,345.41 704.67,346.55 705.30,346.70 C705.92,346.85 708.82,346.91 709.40,347.25 C709.98,347.59 711.65,349.72 712.20,350.80 C712.75,351.88 715.38,358.85 716.00,360.20 C716.62,361.55 718.75,365.85 719.70,367.00 C720.65,368.15 726.54,373.65 727.40,374.00 C728.26,374.35 729.55,371.51 730.00,371.25 C730.45,370.99 732.25,371.10 732.80,370.90 C733.35,370.70 736.02,368.97 736.60,368.90 C737.18,368.82 739.00,369.39 739.70,370.00 C740.40,370.61 744.14,376.44 745.00,376.25 C745.86,376.06 749.38,368.43 750.00,367.75 C750.62,367.07 751.98,367.70 752.50,368.10 C753.02,368.50 755.58,371.67 756.25,372.50 C756.92,373.33 760.03,377.79 760.60,378.10 C761.17,378.41 762.65,376.46 763.10,376.25 C763.55,376.04 765.76,375.65 766.00,375.60 L766.00,411.5 L105.00,411.5 Z" fill="#ababab"/>
<path d="M105.00,328.10 C105.21,328.68 106.98,333.96 107.50,335.00 C108.02,336.04 110.62,339.93 111.25,340.60 C111.88,341.28 114.43,343.74 115.00,343.10 C115.57,342.46 117.63,332.90 118.10,332.90 C118.57,332.90 120.02,341.36 120.60,343.10 C121.17,344.84 124.47,352.81 125.00,353.75 C125.53,354.69 126.23,354.61 126.90,354.40 C127.58,354.19 132.32,352.08 133.10,351.25 C133.88,350.42 135.78,345.02 136.25,344.40 C136.72,343.77 138.39,343.12 138.75,343.75 C139.11,344.38 140.24,351.22 140.60,351.90 C140.96,352.58 142.63,351.48 143.10,351.90 C143.57,352.32 145.78,356.87 146.25,356.90 C146.72,356.93 148.33,352.41 148.75,352.25 C149.17,352.09 150.83,354.82 151.25,355.00 C151.67,355.18 153.28,354.14 153.75,354.40 C154.22,354.66 156.28,358.21 156.90,358.10 C157.53,357.99 160.62,353.46 161.25,353.10 C161.88,352.74 163.78,354.27 164.40,353.75 C165.03,353.23 168.11,348.57 168.75,346.90 C169.39,345.23 171.58,334.01 172.10,333.75 C172.62,333.49 174.45,342.40 175.00,343.75 C175.55,345.10 178.02,349.25 178.75,350.00 C179.48,350.75 183.02,352.59 183.75,352.75 C184.48,352.91 186.85,351.96 187.50,351.90 C188.15,351.84 190.85,352.87 191.50,352.00 C192.15,351.13 194.68,341.75 195.25,341.50 C195.82,341.25 197.75,347.98 198.40,349.00 C199.05,350.02 202.39,353.46 203.10,353.75 C203.81,354.04 206.30,352.97 206.90,352.50 C207.50,352.03 209.70,347.63 210.25,348.10 C210.80,348.57 213.00,357.58 213.50,358.10 C214.00,358.62 215.76,354.14 216.25,354.40 C216.74,354.66 218.36,360.62 219.40,361.25 C220.44,361.88 227.61,362.02 228.75,361.90 C229.89,361.77 232.42,359.54 233.10,359.75 C233.78,359.96 236.22,363.86 236.90,364.40 C237.58,364.94 240.66,365.80 241.25,366.25 C241.84,366.70 243.53,369.94 244.00,369.75 C244.47,369.56 246.45,364.45 246.90,364.00 C247.35,363.55 248.98,364.11 249.40,364.40 C249.82,364.69 251.43,367.42 251.90,367.50 C252.37,367.58 254.32,365.40 255.00,365.40 C255.68,365.40 259.35,366.80 260.00,367.50 C260.65,368.20 262.33,373.54 262.75,373.75 C263.17,373.96 264.40,370.52 265.00,370.00 C265.60,369.48 269.12,367.34 270.00,367.50 C270.88,367.66 274.72,371.82 275.60,371.90 C276.48,371.98 279.77,368.25 280.60,368.50 C281.43,368.75 284.82,374.69 285.60,374.90 C286.38,375.11 289.17,371.25 290.00,371.00 C290.83,370.75 294.66,371.52 295.60,371.90 C296.54,372.28 300.52,375.47 301.25,375.60 C301.98,375.73 303.75,372.95 304.40,373.50 C305.05,374.05 308.22,381.71 309.00,382.25 C309.78,382.79 313.15,380.76 313.75,380.00 C314.35,379.24 315.83,373.73 316.25,373.10 C316.67,372.48 318.23,372.26 318.75,372.50 C319.27,372.74 321.72,375.56 322.50,376.00 C323.28,376.44 327.50,377.65 328.10,377.75 C328.70,377.85 329.40,377.04 329.75,377.25 C330.10,377.46 331.76,380.33 332.25,380.25 C332.74,380.17 335.00,376.79 335.60,376.25 C336.20,375.71 338.82,374.22 339.40,373.75 C339.97,373.28 341.82,370.62 342.50,370.60 C343.18,370.58 346.82,373.81 347.50,373.50 C348.18,373.19 350.13,367.56 350.60,366.90 C351.07,366.24 352.70,366.12 353.10,365.60 C353.50,365.08 354.98,360.55 355.40,360.60 C355.82,360.65 357.30,365.47 358.10,366.25 C358.90,367.03 364.01,369.72 365.00,370.00 C365.99,370.28 369.29,369.98 370.00,369.60 C370.71,369.23 372.96,365.82 373.50,365.50 C374.04,365.18 375.88,365.26 376.50,365.80 C377.12,366.34 380.24,371.60 381.00,372.00 C381.76,372.40 384.95,371.00 385.60,370.60 C386.25,370.20 388.18,367.04 388.75,367.25 C389.32,367.46 391.98,372.56 392.50,373.10 C393.02,373.64 394.46,374.58 395.00,373.75 C395.54,372.92 398.40,363.25 399.00,363.10 C399.60,362.95 401.59,371.85 402.25,371.90 C402.91,371.95 406.27,364.07 406.90,363.75 C407.52,363.43 409.28,368.29 409.75,368.10 C410.22,367.91 411.90,361.47 412.50,361.50 C413.10,361.53 416.02,367.53 416.90,368.50 C417.78,369.47 422.43,372.77 423.10,373.10 C423.78,373.43 424.63,372.39 425.00,372.50 C425.37,372.61 427.06,374.66 427.50,374.40 C427.94,374.14 429.78,369.30 430.25,369.40 C430.72,369.50 432.50,375.24 433.10,375.60 C433.70,375.96 436.72,373.28 437.50,373.75 C438.28,374.22 441.82,380.60 442.50,381.25 C443.18,381.90 445.13,382.23 445.60,381.60 C446.07,380.98 447.63,374.14 448.10,373.75 C448.57,373.36 450.15,377.37 451.25,376.90 C452.35,376.43 460.19,368.47 461.25,368.10 C462.31,367.73 463.45,371.65 464.00,372.50 C464.55,373.35 467.30,377.79 467.80,378.30 C468.30,378.81 469.30,378.77 470.00,378.60 C470.70,378.43 475.47,376.05 476.25,376.25 C477.03,376.45 478.93,381.05 479.40,381.00 C479.87,380.95 481.27,376.15 481.90,375.60 C482.52,375.05 486.17,373.77 486.90,374.40 C487.62,375.02 490.03,382.38 490.60,383.10 C491.17,383.83 493.20,383.67 493.75,383.10 C494.30,382.53 496.73,376.25 497.25,376.25 C497.77,376.25 499.51,382.89 500.00,383.10 C500.49,383.31 502.48,379.13 503.10,378.75 C503.73,378.37 506.93,378.08 507.50,378.50 C508.07,378.92 509.53,384.09 510.00,383.75 C510.47,383.41 512.37,374.71 513.10,374.40 C513.83,374.09 517.92,379.55 518.75,380.00 C519.58,380.45 522.48,379.49 523.10,379.75 C523.73,380.01 525.62,382.98 526.25,383.10 C526.88,383.23 529.98,381.09 530.60,381.25 C531.23,381.41 533.28,385.05 533.75,385.00 C534.22,384.95 535.73,381.18 536.25,380.60 C536.77,380.03 539.38,378.62 540.00,378.10 C540.62,377.58 542.95,374.84 543.75,374.40 C544.55,373.96 548.71,372.86 549.60,372.80 C550.49,372.74 553.79,373.27 554.40,373.70 C555.01,374.13 556.47,377.82 556.90,378.00 C557.33,378.18 559.18,375.60 559.60,375.80 C560.02,376.00 561.29,380.33 561.90,380.40 C562.51,380.47 566.25,377.57 566.90,376.60 C567.55,375.63 569.28,368.80 569.75,368.75 C570.22,368.70 571.85,375.81 572.50,376.00 C573.15,376.19 576.56,371.57 577.50,371.00 C578.44,370.43 582.92,368.98 583.75,369.10 C584.58,369.23 586.88,372.45 587.50,372.50 C588.12,372.55 590.58,369.30 591.25,369.75 C591.92,370.20 594.92,377.64 595.60,377.90 C596.28,378.16 598.82,373.32 599.40,372.90 C599.98,372.48 601.98,372.75 602.50,372.90 C603.02,373.05 604.98,374.96 605.60,374.75 C606.23,374.54 609.32,370.92 610.00,370.40 C610.68,369.88 613.02,369.23 613.75,368.50 C614.48,367.77 618.10,361.86 618.75,361.60 C619.40,361.34 621.06,365.26 621.50,365.40 C621.94,365.54 623.58,363.15 624.00,363.25 C624.42,363.35 626.08,366.42 626.50,366.60 C626.92,366.78 628.55,364.82 629.00,365.40 C629.45,365.97 631.45,372.93 631.90,373.50 C632.35,374.07 633.83,372.12 634.40,372.25 C634.97,372.38 638.18,375.10 638.75,375.10 C639.32,375.10 640.75,372.88 641.25,372.25 C641.75,371.62 644.00,368.22 644.70,367.60 C645.40,366.98 648.79,364.93 649.60,364.80 C650.41,364.67 653.74,366.27 654.40,366.00 C655.06,365.73 657.03,361.86 657.50,361.60 C657.97,361.34 659.56,363.16 660.00,362.90 C660.44,362.64 662.08,358.24 662.75,358.50 C663.42,358.76 667.24,365.38 668.10,366.00 C668.96,366.62 672.32,366.78 673.10,366.00 C673.88,365.22 676.67,357.48 677.50,356.60 C678.33,355.72 682.37,355.14 683.10,355.40 C683.83,355.66 685.67,359.65 686.25,359.75 C686.83,359.85 689.27,357.04 690.00,356.60 C690.73,356.16 694.22,355.33 695.00,354.50 C695.78,353.67 698.82,347.36 699.40,346.60 C699.98,345.84 701.41,345.39 701.90,345.40 C702.39,345.41 704.67,346.55 705.30,346.70 C705.92,346.85 708.82,346.91 709.40,347.25 C709.98,347.59 711.65,349.72 712.20,350.80 C712.75,351.88 715.38,358.85 716.00,360.20 C716.62,361.55 718.75,365.85 719.70,367.00 C720.65,368.15 726.54,373.65 727.40,374.00 C728.26,374.35 729.55,371.51 730.00,371.25 C730.45,370.99 732.25,371.10 732.80,370.90 C733.35,370.70 736.02,368.97 736.60,368.90 C737.18,368.82 739.00,369.39 739.70,370.00 C740.40,370.61 744.14,376.44 745.00,376.25 C745.86,376.06 749.38,368.43 750.00,367.75 C750.62,367.07 751.98,367.70 752.50,368.10 C753.02,368.50 755.58,371.67 756.25,372.50 C756.92,373.33 760.03,377.79 760.60,378.10 C761.17,378.41 762.65,376.46 763.10,376.25 C763.55,376.04 765.76,375.65 766.00,375.60" fill="none" stroke="#52759a" stroke-width="2.25" stroke-linejoin="round" stroke-linecap="round" stroke-opacity="0.9"/>
<path d="M105,328.1 V411.5" stroke="#9a9a9a" stroke-width="1.6" fill="none"/>
<rect x="105.8" y="334.1" width="3.4" height="77.39999999999998" fill="#000" fill-opacity="0.04"/>
<path d="M104.2,411.5 H766.8" stroke="#929292" stroke-width="1.9" fill="none"/>
</svg>
</body></html>
